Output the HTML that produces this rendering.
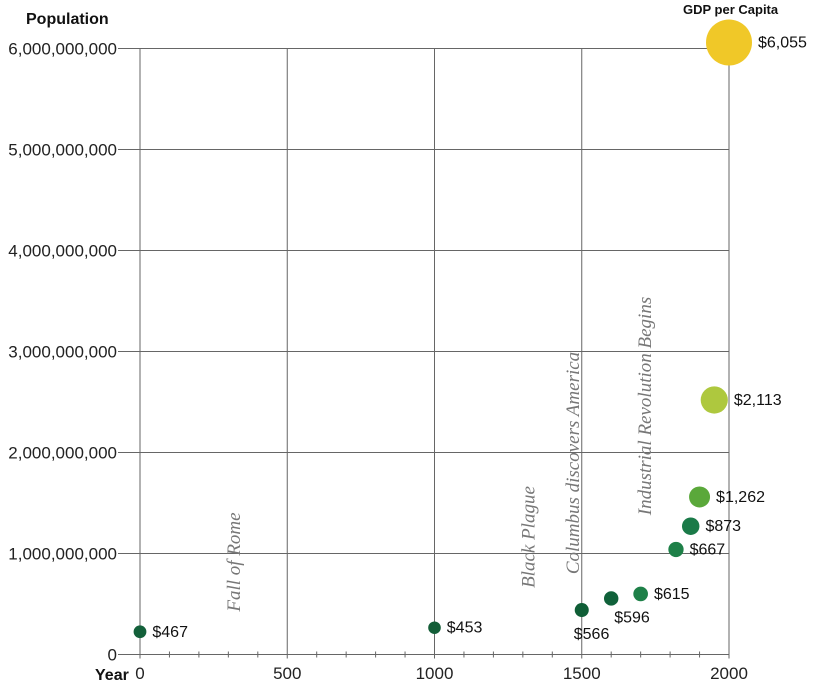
<!DOCTYPE html>
<html><head><meta charset="utf-8"><style>
body{margin:0;background:#fff;width:815px;height:684px;overflow:hidden}
svg{display:block}
text{font-family:"Liberation Sans",sans-serif}
.yl{font-size:17px;fill:#222;text-anchor:end}
.xl{font-size:17px;fill:#222;text-anchor:middle}
.vl{font-size:16px;fill:#111}
.an{font-family:"Liberation Serif",serif;font-style:italic;font-size:19px;fill:#777;text-anchor:middle}
</style></head><body>
<svg id="chart" width="815" height="684">
<g id="grid"></g>
<g id="ann"></g>
<g id="marks"></g>
<text x="26" y="24" font-weight="bold" font-size="16" fill="#111">Population</text>
<text x="683" y="14" font-weight="bold" font-size="13" fill="#111">GDP per Capita</text>
<text x="95" y="680" font-weight="bold" font-size="16" fill="#111">Year</text>
</svg>
<script>
const years=[0,1000,1500,1600,1700,1820,1870,1900,1950,2000];
const population=[0.225e9,0.265e9,0.44e9,0.555e9,0.60e9,1.04e9,1.27e9,1.56e9,2.52e9,6.06e9];
const gdp=[467,453,566,596,615,667,873,1262,2113,6055];
const gdpLabels=["$467","$453","$566","$596","$615","$667","$873","$1,262","$2,113","$6,055"];
const colors=["#13603a","#145e38","#0f5e36","#10613a","#1e8048","#1e8048","#1a7a48","#5aa83a","#aec83e","#f0c828"];
const labelPos=["right","right","below","belowright","right","right","right","right","right","right"];
const yTicks=[0,1e9,2e9,3e9,4e9,5e9,6e9];
const yTickLabels=["0","1,000,000,000","2,000,000,000","3,000,000,000","4,000,000,000","5,000,000,000","6,000,000,000"];
const xTicks=[0,500,1000,1500,2000];
const events=["Fall of Rome","Black Plague","Columbus discovers America","Industrial Revolution Begins"];
const eventYears=[340,1340,1490,1735];
const eventCenterY=[562,537,463,406];

const NS="http://www.w3.org/2000/svg";
const X=v=>140+v*(729-140)/2000;
const Y=v=>654.5-v*(606/6e9);
const R=g=>23*Math.sqrt(g/6055);
function mk(tag,attrs,parent,txt){const e=document.createElementNS(NS,tag);for(const k in attrs)e.setAttribute(k,attrs[k]);if(txt!==undefined)e.textContent=txt;parent.appendChild(e);return e;}
const grid=document.getElementById('grid'),ann=document.getElementById('ann'),marks=document.getElementById('marks');
yTicks.forEach((t,i)=>{
 const l=mk('line',{x1:118,x2:X(2000),y1:Y(t),y2:Y(t),stroke:'#666','stroke-width':1},grid);
 
 
 const tx=mk('text',{x:117,y:Y(t)+6,class:'yl'},grid,yTickLabels[i]);
 
 
});
xTicks.forEach(t=>{
 const l=mk('line',{x1:X(t),x2:X(t),y1:Y(6e9),y2:Y(0)+4,stroke:'#666','stroke-width':1},grid);
 
 
 const tx=mk('text',{x:X(t),y:679,class:'xl'},grid,String(t));
 
 
});
for(let t=100;t<2000;t+=100){if(t%500===0)continue;
 const l=mk('line',{x1:X(t),x2:X(t),y1:Y(0)-3,y2:Y(0)+3,stroke:'#666','stroke-width':1},grid);
 
 
}
events.forEach((e,i)=>{
 const x=X(eventYears[i]),y=eventCenterY[i];
 const t=mk('text',{x:x,y:y,class:'an',transform:`rotate(-90 ${x} ${y})`},ann,e);
 
 
});
years.forEach((yr,i)=>{
 const cx=X(yr),cy=Y(population[i]),r=R(gdp[i]);
 const c=mk('circle',{cx:cx,cy:cy,r:r,fill:colors[i]},marks);
 
 
 let lx=cx+r+6,ly=cy+5,anchor='start';
 if(labelPos[i]==='below'){lx=cx-8;ly=cy+29;}
 if(labelPos[i]==='belowright'){lx=cx+3;ly=cy+24;}
 const t=mk('text',{x:lx,y:ly,class:'vl','text-anchor':anchor},marks,gdpLabels[i]);
 
 
});
</script>
</body></html>
